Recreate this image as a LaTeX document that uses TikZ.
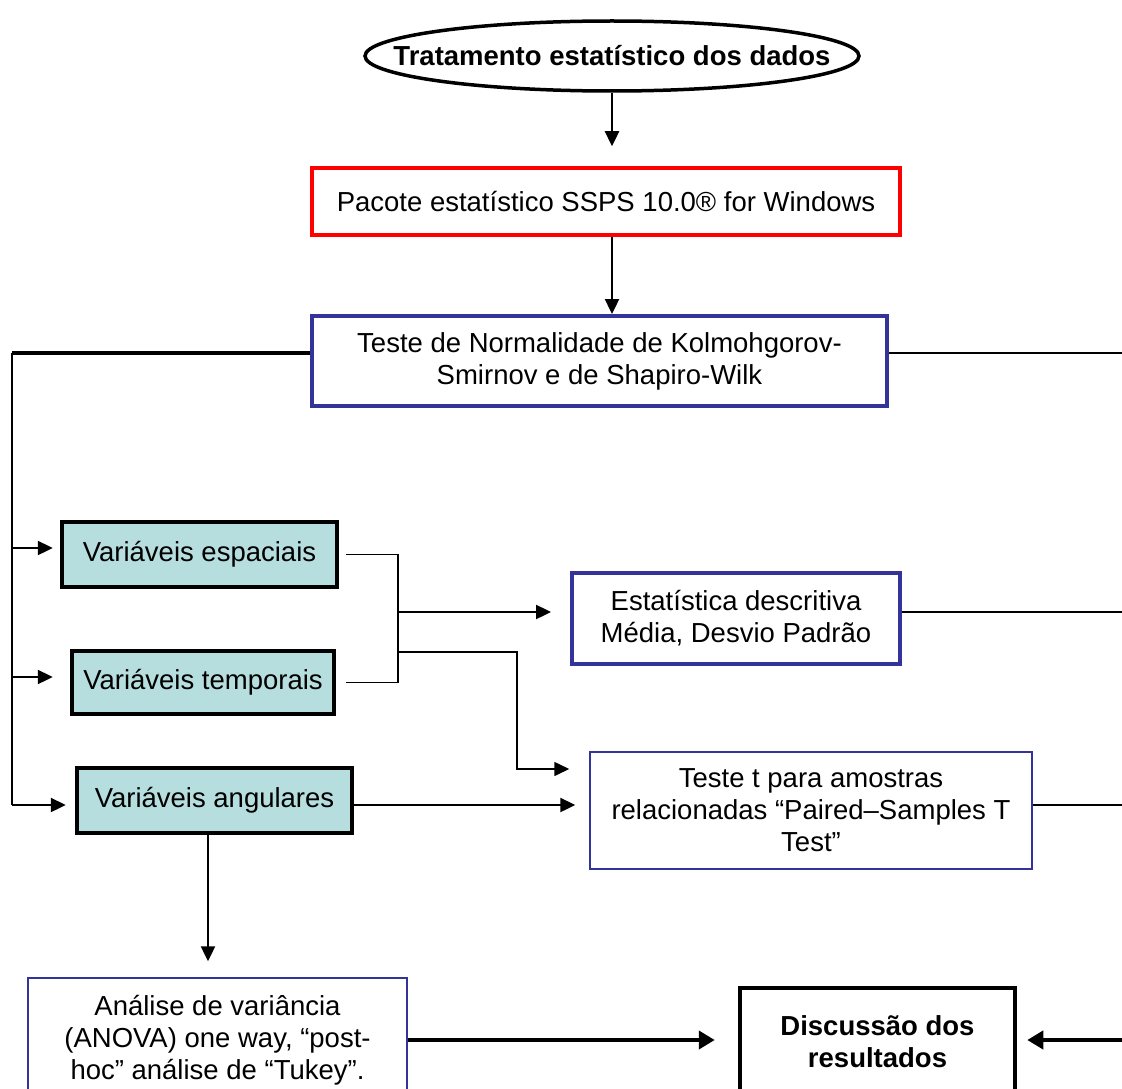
\documentclass[tikz,border=0pt]{standalone}
\usepackage{fontspec}
\setmainfont{Liberation Sans}
\usepackage{xcolor}
\usepackage{tikz}
\usetikzlibrary{shapes}
\usetikzlibrary{shapes.geometric}
\usetikzlibrary{arrows.meta}
\definecolor{azul}{HTML}{333399}
\definecolor{verdeagua}{HTML}{B6DEDE}
\tikzset{
    mynode/.style = {rectangle, draw=black, align=center, inner sep=0pt, font=\fontsize{27.5}{32}\selectfont},
    mynodev/.style = {mynode, draw=red, line width=3.5pt},
    mynodea/.style = {mynode, draw=azul, line width=4pt},
    mynodet/.style = {mynode, fill=verdeagua, line width=4.5pt},
    mynodef/.style = {mynode, draw=azul, line width=1.5pt},
    mynodep/.style = {mynode, line width=4.5pt, font=\fontsize{27.5}{32}\selectfont\bfseries},
}

\begin{document}
\begin{tikzpicture}[x=1pt, y=-1pt]
\tikzset{
    edgen/.style = {line width=1.6pt},
    edgeg/.style = {line width=4pt},
    edgea/.style = {line width=2.4pt, -{Triangle[length=15pt,width=14pt]}},
    edgeb/.style = {line width=4.5pt, -{Triangle[length=16pt,width=18pt]}}
}
\useasboundingbox (0,0) rectangle (1122,1089);
\node[ellipse, draw, line width=3.5pt, inner xsep=-44pt, inner ysep=0pt, minimum width=494, minimum height=70,
      font=\fontsize{27.5}{32}\selectfont\bfseries] at (612,56) (trat) {Tratamento estatístico dos dados};
\node[mynodev, minimum width=588, minimum height=67] at (606,201.5) (pacote) {Pacote estatístico SSPS 10.0® for Windows};
\node[mynodea, minimum width=575, minimum height=90] at (599.5,361) (teste) {Teste de Normalidade de Kolmohgorov-\\Smirnov e de Shapiro-Wilk};
%
\node[mynodet, minimum width=275, minimum height=65] at (199.5,554.5) (espac) {Variáveis espaciais};
\node[mynodet, minimum width=262, minimum height=63] at (203,682.5) (tempo) {Variáveis temporais};
\node[mynodet, minimum width=275, minimum height=65] at (214.5,800.5) (angul) {Variáveis angulares};
%
\node[mynodea, minimum width=328, minimum height=91] at (736,618.5) (estat) {Estatística descritiva\\Média, Desvio Padrão};
\node[mynodef, minimum width=442, minimum height=117] at (811,810.5) (tt) {Teste t para amostras\\relacionadas “Paired–Samples T\\Test”};
\node[mynodef, minimum width=379, minimum height=124] at (217.5,1040) (anova) {Análise de variância\\(ANOVA) one way, “post-\\hoc” análise de “Tukey”.};
\node[mynodep, minimum width=275, minimum height=108] at (877.5,1042) (disc) {Discussão dos\\resultados};
%
\coordinate (esq) at (12,353);
\coordinate (esqb) at (12,805);
\coordinate (dir) at (1122,353);
\coordinate (jx) at (398,612);
\coordinate (b1) at (398,652);
\coordinate (b2) at (517,769);
\coordinate (baixo) at (208,1040);
%
\draw[edgea] (trat.south) -- (trat |- pacote.north) [shorten >=20pt];
\draw[edgea] (pacote.south -| trat) -- (teste.north -| trat);
%
\draw[edgeg] (esq -| teste.west) -- (esq);
\draw[edgen] (esq) -- (esqb);
\draw[edgen] (esq -| teste.east) -- (dir);
\draw[edgea, shorten >=7pt] (esq |- 0,548) -- (espac.west |- 0,548);
\draw[edgea, shorten >=17pt] (esq |- 0,677) -- (tempo.west |- 0,677);
\draw[edgea, shorten >=9pt] (esqb) -- (angul.west |- esqb);
%
\draw[edgen, shorten <=7pt] (espac.east) -- (espac.east -| jx) -- (tempo.east -| jx) -- (tempo.east) [shorten >=10pt];
\draw[edgea, shorten >=19pt] (jx) -- (estat.west |- jx);
\draw[edgen] (estat.east |- jx) -- (dir |- jx);
\draw[edgen, -{Triangle[length=15pt,width=14pt]}, shorten >=20pt] (b1) -| (b2) -- (b2 -| tt.west);
\draw[edgea, shorten >=14pt] (angul.east |- esqb) -- (tt.west |- esqb);
\draw[edgen] (tt.east |- esqb) -- (dir |- esqb);
%
\draw[edgea, shorten >=16pt] (angul.south -| baixo) -- (anova.north -| baixo);
\draw[edgeb, shorten >=23pt] (anova.east |- baixo) -- (disc.west |- baixo);
\draw[edgeb, shorten >=10pt] (dir |- baixo) -- (disc.east |- baixo);
\end{tikzpicture}
\end{document}
